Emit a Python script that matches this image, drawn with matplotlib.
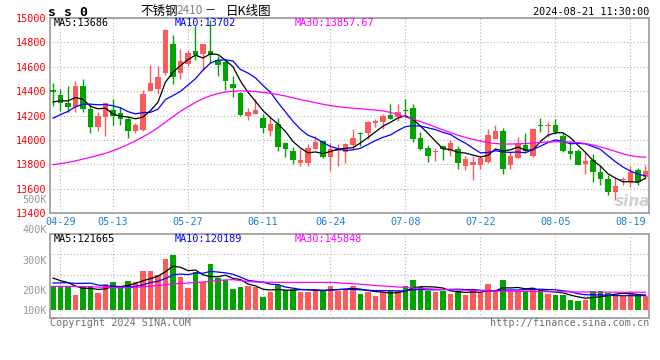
import numpy as np
import pandas as pd
import matplotlib
matplotlib.use('Agg')
import matplotlib.pyplot as plt

plt.rcParams['font.family'] = ['DejaVu Sans Mono', 'Noto Sans CJK SC']

# daily bars, 04-26 .. 08-21 (80 trading days)
opens = [14409, 14365, 14306, 14273, 14441, 14257, 14107, 14189, 14246, 14224,
         14170, 14075, 14083, 14400, 14414, 14545, 14789, 14545, 14626, 14727,
         14702, 14727, 14659, 14640, 14455, 14387, 14197, 14213, 14178, 14075,
         14129, 13977, 13912, 13811, 13811, 13925, 13990, 13857, 13912, 13898,
         13960, 14053, 14056, 14137, 14148, 14202, 14191, 14246, 14265, 14015,
         13933, 13900, 13950, 13912, 13925, 13789, 13795, 13797, 13822, 14007,
         14072, 13797, 13854, 13958, 13871, 14121, 14110, 14121, 14028, 13906,
         13909, 13806, 13838, 13735, 13681, 13572, 13667, 13653, 13749, 13694]
highs = [14469, 14420, 14441, 14482, 14501, 14292, 14229, 14305, 14333, 14273,
         14197, 14137, 14406, 14618, 14604, 14909, 14863, 14746, 14735, 14936,
         14786, 14980, 14691, 14664, 14528, 14395, 14265, 14333, 14210, 14189,
         14183, 13985, 13944, 13925, 13963, 14028, 13995, 13974, 13966, 13971,
         14088, 14066, 14156, 14175, 14216, 14292, 14292, 14333, 14292, 14061,
         13960, 13930, 13950, 13998, 13952, 13871, 13871, 13871, 14088, 14121,
         14099, 13903, 14023, 14053, 14088, 14178, 14143, 14170, 14056, 13988,
         13925, 13898, 13884, 13784, 13708, 13694, 13694, 13789, 13768, 13797]
lows = [14278, 14238, 14229, 14229, 14229, 14056, 14069, 14034, 14121, 14121,
        14012, 14056, 14075, 14400, 14373, 14536, 14455, 14501, 14604, 14659,
        14577, 14630, 14523, 14406, 14352, 14195, 14161, 14213, 14053, 14034,
        13912, 13863, 13803, 13789, 13784, 13925, 13850, 13743, 13789, 13811,
        13925, 13952, 14007, 14107, 14088, 14170, 14156, 14197, 13979, 13917,
        13822, 13830, 13835, 13871, 13762, 13754, 13672, 13762, 13810, 14007,
        13721, 13762, 13854, 13898, 13860, 14061, 14020, 14047, 13898, 13844,
        13797, 13721, 13653, 13626, 13545, 13504, 13626, 13613, 13626, 13680]
closes = [14392, 14300, 14273, 14441, 14257, 14107, 14197, 14300, 14197, 14170,
          14075, 14121, 14373, 14463, 14515, 14903, 14520, 14645, 14713, 14694,
          14786, 14694, 14613, 14482, 14422, 14202, 14232, 14246, 14099, 14129,
          13944, 13925, 13835, 13835, 13930, 13979, 13857, 13925, 13925, 13963,
          14012, 14050, 14148, 14156, 14197, 14170, 14229, 14235, 14007, 13925,
          13871, 13906, 13925, 13974, 13811, 13844, 13822, 13849, 14039, 14072,
          13762, 13871, 13963, 13906, 14088, 14110, 14121, 14066, 13906, 13887,
          13797, 13830, 13735, 13675, 13572, 13621, 13680, 13735, 13653, 13745]
# volume, thousand lots
vols = [193, 185, 193, 126, 188, 198, 139, 214, 225, 185,
        239, 225, 314, 314, 287, 415, 448, 268, 182, 306,
        228, 375, 260, 247, 174, 185, 193, 188, 110, 145,
        206, 166, 174, 145, 145, 174, 161, 198, 158, 166,
        198, 134, 145, 113, 145, 158, 158, 198, 247, 190,
        158, 145, 158, 134, 158, 126, 166, 139, 214, 145,
        247, 158, 158, 158, 174, 145, 134, 126, 126, 86,
        72, 80, 153, 153, 139, 126, 118, 139, 113, 118]
# closes / volumes of the days before 04-26 (estimated from where the MA lines start)
prev_closes = [14000, 14020, 14050, 14060, 14095, 14250, 14280, 14300, 14333]
prev_vols = [170, 185, 175, 190, 180, 290, 270, 265, 282]

ma30_price = [13797, 13805, 13815, 13828, 13842, 13857, 13873, 13890, 13910, 13935,
              13962, 13992, 14025, 14060, 14100, 14145, 14190, 14235, 14272, 14308,
              14338, 14362, 14380, 14393, 14400, 14402, 14400, 14396, 14390, 14382,
              14372, 14360, 14345, 14330, 14318, 14305, 14292, 14282, 14273, 14265,
              14260, 14255, 14250, 14245, 14238, 14225, 14207, 14188, 14170, 14150,
              14128, 14105, 14082, 14060, 14038, 14020, 14004, 13990, 13978, 13970,
              13966, 13966, 13968, 13970, 13974, 13979, 13983, 13985, 13984, 13982,
              13978, 13970, 13958, 13942, 13925, 13905, 13886, 13871, 13862, 13858]
ma30_vol = [193, 193, 193, 192, 192, 190, 188, 185, 183, 182,
            182, 185, 190, 195, 200, 206, 212, 216, 220, 224,
            228, 233, 240, 245, 247, 240, 232, 228, 227, 226,
            226, 225, 225, 225, 225, 225, 225, 225, 222, 218,
            214, 210, 205, 200, 196, 192, 188, 184, 180, 177,
            174, 171, 168, 166, 164, 162, 160, 158, 157, 156,
            155, 154, 153, 153, 152, 151, 150, 150, 149, 149,
            148, 148, 147, 147, 147, 146, 146, 146, 146, 146]

tick_idx = [1, 8, 18, 28, 37, 47, 57, 67, 77]
tick_labels = ['04-29', '05-13', '05-27', '06-11', '06-24', '07-08', '07-22', '08-05', '08-19']
price_ticks = [13400, 13600, 13800, 14000, 14200, 14400, 14600, 14800, 15000]

RED = '#ff5a5a'
GREEN = '#00a300'
GRID = '#b4b4b4'
FRAME = '#a0a0a0'
W, H = 660, 360


def fx(px):
    return px / W


def fy(py):
    return 1 - py / H


o = np.array(opens); h = np.array(highs); l = np.array(lows); c = np.array(closes)
v = np.array(vols)
x = np.arange(len(c))
up = c >= o
cols = np.where(up, RED, GREEN)

cs = pd.Series(prev_closes + closes)
ma5 = cs.rolling(5).mean().values[len(prev_closes):]
ma10 = cs.rolling(10).mean().values[len(prev_closes):]
vs = pd.Series(prev_vols + vols)
vma5 = vs.rolling(5).mean().values[len(prev_vols):]
vma10 = vs.rolling(10).mean().values[len(prev_vols):]

fig = plt.figure(figsize=(6.6, 3.6), dpi=100)
ax = fig.add_axes([fx(50), fy(213), fx(599), 195 / H])
axv = fig.add_axes([fx(50), fy(318), fx(599), 84 / H])

# price panel
ax.vlines(x, l, h, colors=cols, lw=1, zorder=2)
ax.bar(x, np.maximum(np.abs(c - o), 9), bottom=np.minimum(o, c), width=0.68,
       color=cols, lw=0, zorder=3)
ax.plot(x, ma5, color='black', lw=0.9, zorder=4)
ax.plot(x, ma10, color='#0000ff', lw=0.9, zorder=4)
ax.plot(x, ma30_price, color='#ff00ff', lw=0.9, zorder=4)
ax.set_xlim(-0.4, 79.47)
ax.set_ylim(13400, 15000)
ax.set_yticks(price_ticks)
ax.set_xticks(tick_idx)
ax.set_xticklabels(tick_labels)
ax.tick_params(axis='y', length=0, pad=2.5, labelcolor='#ff0000', labelsize=7.3)
ax.tick_params(axis='x', length=0, pad=3, labelcolor='#1a80d8', labelsize=7.3)
ax.grid(True, color=GRID, ls=(0, (1, 2)), lw=0.8, zorder=0)

# volume panel
axv.bar(x, v, width=0.72, color=cols, lw=0, zorder=2)
axv.plot(x, vma5, color='black', lw=0.9, zorder=4)
axv.plot(x, vma10, color='#0000ff', lw=0.9, zorder=4)
axv.plot(x, ma30_vol, color='#ff00ff', lw=0.9, zorder=4)
axv.set_xlim(-0.4, 79.47)
axv.set_ylim(-61, 614)
axv.set_yticks([118, 287, 456])
axv.set_xticks(tick_idx)
axv.tick_params(length=0, labelleft=False, labelbottom=False)
axv.grid(True, color=GRID, ls=(0, (1, 2)), lw=0.8, zorder=0)

for a in (ax, axv):
    a.set_axisbelow(True)
    for s in a.spines.values():
        s.set_color(FRAME)
        s.set_linewidth(1.3)

# header
fig.text(fx(48), fy(12), 's s 0', fontsize=9.5, fontweight='bold', va='center')
fig.text(fx(140), fy(11), '不锈钢', fontsize=9, va='center', family=['Noto Sans CJK SC'])
fig.text(fx(176), fy(11), '2410', fontsize=8.5, va='center', color='#808080',
         family=['Noto Sans CJK SC'])
fig.text(fx(205), fy(11), '－', fontsize=8, va='center', family=['Noto Sans CJK SC'])
fig.text(fx(226), fy(11), '日K线图', fontsize=9, va='center', family=['Noto Sans CJK SC'])
fig.text(fx(649), fy(12), '2024-08-21 11:30:00', fontsize=7.3, ha='right', va='center')

# MA readouts
fig.text(fx(54), fy(23.5), 'MA5:13686', fontsize=7.3, va='center', color='black')
fig.text(fx(175), fy(23.5), 'MA10:13702', fontsize=7.3, va='center', color='#0000ff')
fig.text(fx(295), fy(23.5), 'MA30:13857.67', fontsize=7.3, va='center', color='#ff00ff')
fig.text(fx(54), fy(238.5), 'MA5:121665', fontsize=7.3, va='center', color='black')
fig.text(fx(175), fy(238.5), 'MA10:120189', fontsize=7.3, va='center', color='#0000ff')
fig.text(fx(295), fy(238.5), 'MA30:145848', fontsize=7.3, va='center', color='#ff00ff')

# volume scale labels
for lab, py in [('500K', 200), ('400K', 230.5), ('300K', 260.5), ('200K', 290.5), ('100K', 310.5)]:
    fig.text(fx(47), fy(py), lab, fontsize=7.3, ha='right', va='center', color='#999999')

# footer
fig.text(fx(50), fy(323.5), 'Copyright 2024 SINA.COM', fontsize=7.3, va='center', color='#707070')
fig.text(fx(649), fy(323.5), 'http://finance.sina.com.cn', fontsize=7.3, ha='right',
         va='center', color='#707070')

# watermark
fig.text(fx(650), fy(201), 'sina', fontsize=11, ha='right', va='center', color='#d0d0d0',
         fontweight='bold', style='italic', family=['DejaVu Sans'])

fig.savefig('out.png', dpi=100, facecolor='white')
